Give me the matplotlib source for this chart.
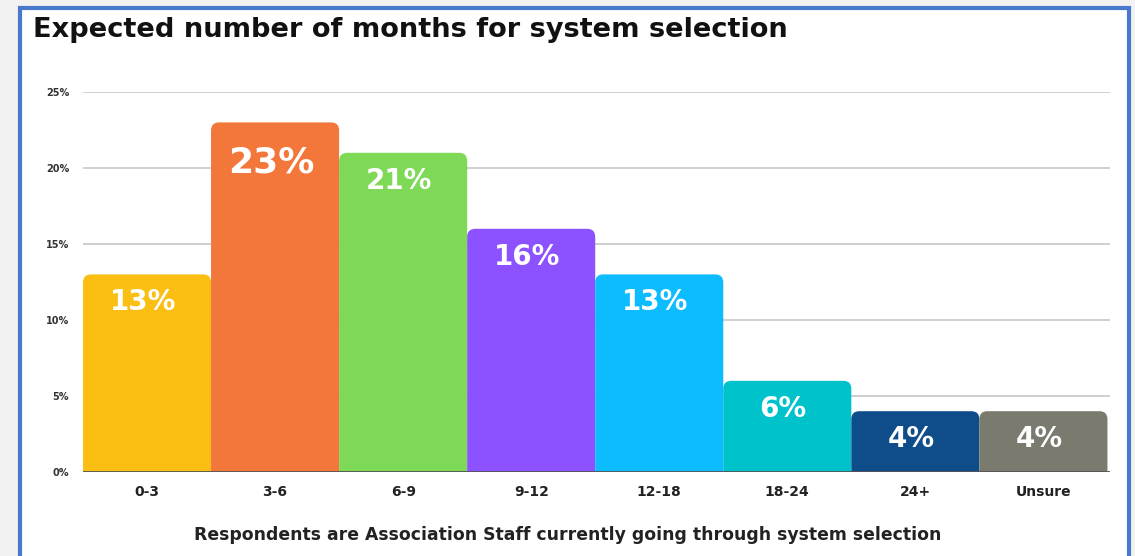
import matplotlib.pyplot as plt
from matplotlib.patches import FancyBboxPatch, Rectangle

categories = ["0-3", "3-6", "6-9", "9-12", "12-18", "18-24", "24+", "Unsure"]
values = [13, 23, 21, 16, 13, 6, 4, 4]
labels = ["13%", "23%", "21%", "16%", "13%", "6%", "4%", "4%"]
colors = ["#fbbf14", "#f3773a", "#7ed957", "#8c52ff", "#0cbcff", "#00c2cb", "#0f4c8a", "#7a7a6e"]
yticks = [0, 5, 10, 15, 20, 25]
ytick_labels = ["0%", "5%", "10%", "15%", "20%", "25%"]

plt.rcParams['font.family'] = ['DejaVu Sans']

W, H = 1135, 556
fig = plt.figure(figsize=(W / 100, H / 100), dpi=100, facecolor="#f2f2f2")

# white card with blue border
card = Rectangle((20 / W, -0.05), 1109 / W, 1.05 - 8 / H, transform=fig.transFigure,
                 facecolor="white", edgecolor="#4a78cc", linewidth=3, zorder=-5)
fig.patches.append(card)

ax = fig.add_axes([83 / W, 1 - 472 / H, (1110 - 83) / W, (472 - 92) / H])
ax.set_facecolor("none")
ax.set_xlim(-0.5, len(categories) - 0.5 + 0.02)
ax.set_ylim(0, 25)

# rounded bars (bottom corners pushed below the axis and clipped)
px_x = (len(categories) + 0.02) / (1110 - 83)
px_y = 25 / (472 - 92)
r = 8  # rounding in px
for i, (v, c) in enumerate(zip(values, colors)):
    x0 = i - 0.5
    y0 = -2 * r * px_y
    ax.add_patch(FancyBboxPatch((x0, y0), 1.0, v - y0, boxstyle=f"round,pad=0,rounding_size={r * px_x}",
                                mutation_aspect=px_y / px_x, facecolor=c, edgecolor="none", zorder=2))
    big = v == max(values)
    ax.annotate(labels[i], (i, v), xytext=(-4, -40 if big else -28), textcoords="offset pixels",
                ha="center", va="center", color="white", fontsize=26 if big else 20,
                fontweight="bold", zorder=3)

for y in yticks[1:]:
    ax.axhline(y, color="#cccccc", lw=1.3, zorder=1)
ax.axhline(0, color="#555555", lw=1.3, zorder=3)

ax.set_xticks(range(len(categories)))
ax.set_xticklabels(categories, fontsize=10, fontweight="bold", color="#222222")
ax.set_yticks(yticks)
ax.set_yticklabels(ytick_labels, fontsize=7, fontweight="bold", color="#333333")
ax.tick_params(length=0, axis="x", pad=9)
ax.tick_params(length=0, axis="y", pad=10)
for s in ax.spines.values():
    s.set_visible(False)

fig.text(33 / W, 1 - 30 / H, "Expected number of months for system selection",
         fontsize=19.6, fontweight="bold", color="#111111", ha="left", va="center")
fig.text(568 / W, 1 - 535 / H, "Respondents are Association Staff currently going through system selection",
         fontsize=12.4, fontweight="bold", color="#222222", ha="center", va="center")

fig.savefig("out.png", dpi=100, facecolor=fig.get_facecolor())
